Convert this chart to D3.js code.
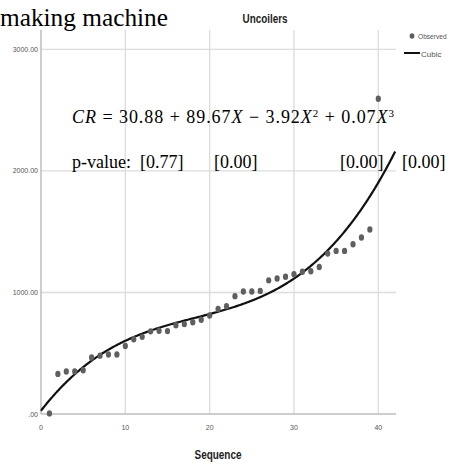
<!DOCTYPE html>
<html><head><meta charset="utf-8">
<script src="https://cdn.jsdelivr.net/npm/d3@7"></script>
<style>body{margin:0;background:#fff}svg{display:block}</style>
</head><body>
<svg id="c" width="452" height="464"></svg>
<script>
const sequence = d3.range(1, 41);
const observed = [5,330,350,350,360,465,480,490,490,560,615,635,680,685,682,730,740,755,775,810,
  865,887,970,1008,1008,1013,1100,1115,1130,1150,1170,1175,1210,1320,1342,1342,1397,1452,1518,2594];
const yTicks = [0,1000,2000,3000];
const yTickLabels = [".00","1000.00","2000.00","3000.00"];
const xTicks = [0,10,20,30,40];
const title = "Uncoilers", xTitle = "Sequence";
const legendItems = ["Observed","Cubic"];
const eqText = ["CR = 30.88 + 89.67X − 3.92X", "2", " + 0.07X", "3"];
const pvals = ["p-value:", "[0.77]", "[0.00]", "[0.00]", "[0.00]"];

const svg = d3.select("#c");
const x = d3.scaleLinear().domain([0, 42.1]).range([41, 396]);
const y = d3.scaleLinear().domain([0, 3160]).range([414, 30]);

// least squares cubic fit from observed data
function fitCubic(xs, ys){
  const n=4, A=[...Array(n)].map(()=>Array(n+1).fill(0));
  xs.forEach((xv,i)=>{ const p=[1,xv,xv*xv,xv*xv*xv];
    for(let r=0;r<n;r++){ for(let c=0;c<n;c++) A[r][c]+=p[r]*p[c]; A[r][n]+=p[r]*ys[i]; } });
  for(let i=0;i<n;i++){ let m=i; for(let r=i+1;r<n;r++) if(Math.abs(A[r][i])>Math.abs(A[m][i])) m=r;
    [A[i],A[m]]=[A[m],A[i]];
    for(let r=0;r<n;r++){ if(r===i) continue; const f=A[r][i]/A[i][i]; for(let c=i;c<=n;c++) A[r][c]-=f*A[i][c]; } }
  return A.map((row,i)=>row[n]/row[i]);
}
const b = fitCubic(sequence, observed);
const cubic = X => b[0]+b[1]*X+b[2]*X*X+b[3]*X*X*X;

// grid
svg.append("g").selectAll("line").data(xTicks.filter(d=>d>0)).join("line")
  .attr("x1",d=>x(d)).attr("x2",d=>x(d)).attr("y1",30).attr("y2",414)
  .attr("stroke","#dcdcdc").attr("stroke-width",1.3);
svg.append("g").selectAll("line").data(yTicks.filter(d=>d>0)).join("line")
  .attr("x1",41).attr("x2",396).attr("y1",d=>y(d)).attr("y2",d=>y(d))
  .attr("stroke","#dcdcdc").attr("stroke-width",1.3);

// axes lines
svg.append("line").attr("x1",41).attr("x2",41).attr("y1",30).attr("y2",414).attr("stroke","#bdbdbd").attr("stroke-width",1.5);
svg.append("line").attr("x1",41).attr("x2",396).attr("y1",414).attr("y2",414).attr("stroke","#bdbdbd").attr("stroke-width",1.5);

// tick labels
svg.append("g").selectAll("text").data(yTicks).join("text")
  .attr("x",38).attr("y",d=>y(d)+2.5).attr("text-anchor","end")
  .attr("font-family","Liberation Sans, Arial, sans-serif").attr("font-size",7).attr("fill","#555")
  .text((d,i)=>yTickLabels[i]);
svg.append("g").selectAll("text").data(xTicks).join("text")
  .attr("x",d=>x(d)).attr("y",430).attr("text-anchor","middle")
  .attr("font-family","Liberation Sans, Arial, sans-serif").attr("font-size",7).attr("fill","#555")
  .text(d=>d);

// curve
const line = d3.line().x(d=>x(d)).y(d=>y(cubic(d))).curve(d3.curveLinear);
svg.append("path").datum(d3.range(0, 42.001, 0.1)).attr("d", line)
  .attr("fill","none").attr("stroke","#111").attr("stroke-width",2.2);

// points
svg.append("g").selectAll("ellipse").data(sequence).join("ellipse")
  .attr("cx",d=>x(d)).attr("cy",(d,i)=>y(observed[i])).attr("rx",2.6).attr("ry",3.2)
  .attr("fill","#5f5f5f");

// titles
svg.append("text").attr("x",265).attr("y",23).attr("text-anchor","middle")
  .attr("font-family","Liberation Sans Narrow, Liberation Sans, Arial, sans-serif").attr("font-weight","bold")
  .attr("font-size",12).attr("textLength",45).attr("lengthAdjust","spacingAndGlyphs").attr("fill","#222").text(title);
svg.append("text").attr("x",218).attr("y",459).attr("text-anchor","middle")
  .attr("font-family","Liberation Sans Narrow, Liberation Sans, Arial, sans-serif").attr("font-weight","bold")
  .attr("font-size",12).attr("textLength",47).attr("lengthAdjust","spacingAndGlyphs").attr("fill","#222").text(xTitle);

// legend
svg.append("ellipse").attr("cx",412).attr("cy",36).attr("rx",2.4).attr("ry",2.8).attr("fill","#5f5f5f");
svg.append("text").attr("x",418).attr("y",39).attr("font-family","Liberation Sans, Arial, sans-serif")
  .attr("font-size",6.6).attr("fill","#555").text(legendItems[0]);
svg.append("line").attr("x1",404).attr("x2",420).attr("y1",53).attr("y2",53).attr("stroke","#111").attr("stroke-width",2);
svg.append("text").attr("x",421).attr("y",56.5).attr("font-family","Liberation Sans, Arial, sans-serif")
  .attr("font-size",8).attr("fill","#555").text(legendItems[1]);

// overlay text (serif)
svg.append("text").attr("x",0).attr("y",26).attr("font-family","Liberation Serif, Times New Roman, serif")
  .attr("font-size",26).attr("fill","#000").attr("textLength",168).attr("lengthAdjust","spacingAndGlyphs").text("making machine");

const eq = svg.append("text").attr("x",72).attr("y",123).attr("font-family","Liberation Serif, Times New Roman, serif")
  .attr("font-size",18).attr("fill","#000");
const parts = [
  {t:"CR", it:true},{t:" = 30.88 + 89.67"},{t:"X", it:true},{t:" − 3.92"},{t:"X", it:true},
  {t:eqText[1], sup:true},{t:" + 0.07"},{t:"X", it:true},{t:eqText[3], sup:true}
];
let prevSup=false;
parts.forEach(p=>{
  const ts = eq.append("tspan").text(p.t);
  if(p.it) ts.attr("font-style","italic");
  if(p.sup){ ts.attr("font-size",11).attr("dy",-6); prevSup=true; }
  else if(prevSup){ ts.attr("dy",6); prevSup=false; }
});
eq.attr("textLength",322).attr("lengthAdjust","spacing");

const pvX = [72, 140, 214, 340, 402];
svg.append("g").selectAll("text").data(pvals).join("text")
  .attr("x",(d,i)=>pvX[i]).attr("y",168).attr("font-family","Liberation Serif, Times New Roman, serif")
  .attr("font-size",18).attr("fill","#000").text(d=>d);
</script>
</body></html>
